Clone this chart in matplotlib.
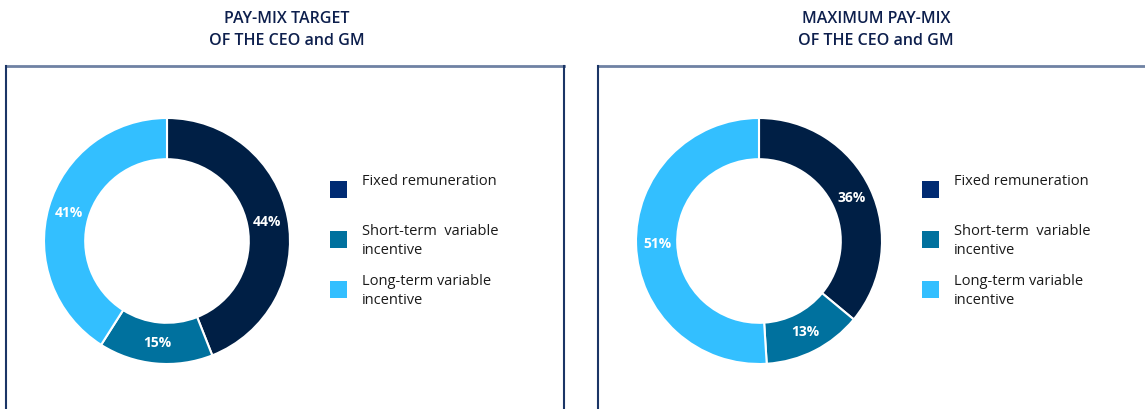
import matplotlib
matplotlib.use("Agg")
import matplotlib.pyplot as plt
from matplotlib.patches import Rectangle
from matplotlib.lines import Line2D

plt.rcParams['font.family'] = ['Open Sans', 'DejaVu Sans']

titles = ["PAY-MIX TARGET\nOF THE CEO and GM", "MAXIMUM PAY-MIX\nOF THE CEO and GM"]
categories = ["Fixed remuneration", "Short-term  variable\nincentive", "Long-term variable\nincentive"]
target_values = [44, 15, 41]
maximum_values = [36, 13, 51]
colors = ["#001f45", "#00719e", "#33bfff"]
legend_colors = ["#002b73", "#00719e", "#33bfff"]

W, H = 1145, 409
fig = plt.figure(figsize=(W / 100, H / 100), dpi=100)
fig.patch.set_facecolor("white")

def fx(px):
    return px / W

def fy(py):
    return 1 - py / H

# boxes
box_top_color = "#6f82a3"
box_side_color = "#1b3566"
for x0, x1, right in [(6, 564, True), (598, 1145, False)]:
    fig.add_artist(Line2D([fx(x0), fx(x1)], [fy(66), fy(66)], color=box_top_color, lw=2.0))
    fig.add_artist(Line2D([fx(x0), fx(x0)], [fy(66), fy(409)], color=box_side_color, lw=1.5))
    if right:
        fig.add_artist(Line2D([fx(x1), fx(x1)], [fy(66), fy(409)], color=box_side_color, lw=1.5))

datasets = [target_values, maximum_values]
centers_x = [167, 759]
title_x = [287, 876]
legend_x = [330, 922]
R = 123
for i, vals in enumerate(datasets):
    cx, cy = centers_x[i], 241
    ax = fig.add_axes([fx(cx - R), fy(cy + R), (2 * R) / W, (2 * R) / H])
    wedges, texts, autotexts = ax.pie(
        vals, colors=colors, startangle=90, counterclock=False,
        radius=1.0, autopct='%d%%', pctdistance=0.83,
        wedgeprops=dict(width=0.335, edgecolor="white", linewidth=1.5),
        textprops=dict(color="white", fontsize=10, fontweight="bold"))
    ax.set_xlim(-1, 1)
    ax.set_ylim(-1, 1)
    ax.set_aspect('auto')
    ax.axis('off')

    fig.text(fx(title_x[i]), fy(30), titles[i], ha="center", va="center",
             fontsize=11.5, color="#0d1f4d", linespacing=1.45, fontweight="semibold",
             family=['Open Sans', 'DejaVu Sans'])

    # legend
    sq_y = [190, 240, 290]
    txt_y = [182, 241, 291]
    for j, cat in enumerate(categories):
        lx = legend_x[i]
        fig.add_artist(Rectangle((fx(lx), fy(sq_y[j] + 8)), 17 / W, 17 / H,
                                 facecolor=legend_colors[j], edgecolor="none",
                                 transform=fig.transFigure))
        fig.text(fx(lx + 32), fy(txt_y[j]), cat, ha="left", va="center",
                 fontsize=10.5, color="#1a1a1a", linespacing=1.45)

fig.savefig("out.png", dpi=100, facecolor="white")
